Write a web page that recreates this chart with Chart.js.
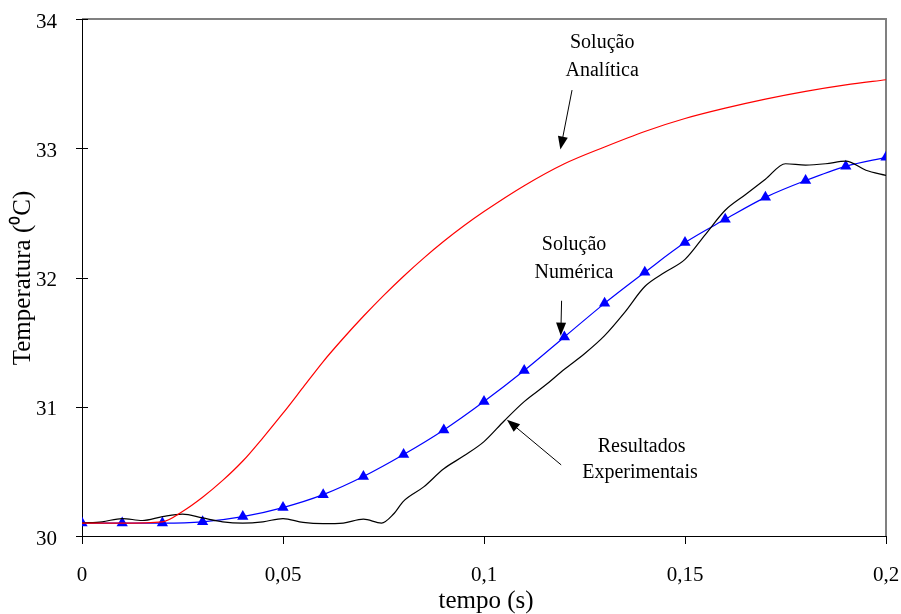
<!DOCTYPE html>
<html>
<head>
<meta charset="utf-8">
<script src="https://cdn.jsdelivr.net/npm/chart.js@4/dist/chart.umd.min.js"></script>
<style>
  body { margin: 0; background: #fff; }
  #wrap { width: 901px; height: 614px; }
</style>
</head>
<body>
<div id="wrap"><canvas id="chart" width="901" height="614"></canvas></div>
<script>
// Solução Numérica (triangles every 0.01 s)
let tNum = [0, 0.01, 0.02, 0.03, 0.04, 0.05, 0.06, 0.07, 0.08, 0.09, 0.1,
            0.11, 0.12, 0.13, 0.14, 0.15, 0.16, 0.17, 0.18, 0.19, 0.2];
let numerica = [30.1, 30.1, 30.1, 30.11, 30.15, 30.22, 30.32, 30.46, 30.63, 30.82, 31.04,
                31.28, 31.54, 31.8, 32.04, 32.27, 32.45, 32.62, 32.75, 32.86, 32.93];

// Solução Analítica
let tAna = [0, 0.01, 0.02, 0.025, 0.03, 0.035, 0.04, 0.045, 0.05, 0.055, 0.06, 0.065, 0.07, 0.075,
            0.08, 0.085, 0.09, 0.095, 0.1, 0.11, 0.12, 0.13, 0.14, 0.15, 0.16, 0.17, 0.18, 0.19, 0.2];
let analitica = [30.1, 30.1, 30.11, 30.19, 30.3, 30.43, 30.58, 30.76, 30.95, 31.15, 31.35, 31.53, 31.7, 31.86,
                 32.01, 32.15, 32.28, 32.4, 32.51, 32.71, 32.88, 33.01, 33.13, 33.23, 33.31, 33.38, 33.44, 33.49, 33.53];

// Resultados Experimentais
let tExp = [0, 0.005, 0.01, 0.015, 0.02, 0.025, 0.03, 0.035, 0.04, 0.045, 0.05, 0.055, 0.06, 0.065,
            0.07, 0.0745, 0.0775, 0.08, 0.085, 0.09, 0.095, 0.1, 0.105, 0.11, 0.115, 0.12, 0.125,
            0.13, 0.135, 0.14, 0.145, 0.15, 0.155, 0.16, 0.165, 0.17, 0.175, 0.18, 0.185, 0.19, 0.195, 0.2];
let experimental = [30.1, 30.11, 30.135, 30.12, 30.15, 30.17, 30.14, 30.11, 30.1, 30.11, 30.135, 30.105, 30.095, 30.1,
                    30.13, 30.1, 30.17, 30.27, 30.38, 30.52, 30.62, 30.73, 30.89, 31.04, 31.16, 31.29, 31.41,
                    31.55, 31.73, 31.93, 32.04, 32.14, 32.33, 32.52, 32.64, 32.76, 32.88, 32.87, 32.88, 32.9, 32.83, 32.79];

let yTicks = [30, 31, 32, 33, 34];
let xTicks = [0, 0.05, 0.1, 0.15, 0.2];

const FONT = "'Liberation Serif', 'Times New Roman', serif";

function pts(xs, ys) {
  return xs.map((x, i) => ({ x: x, y: ys[i] }));
}

// arrow with filled head
function arrow(ctx, x1, y1, x2, y2) {
  let ang = Math.atan2(y2 - y1, x2 - x1);
  let hl = 13, hw = 5;
  ctx.strokeStyle = "#000";
  ctx.fillStyle = "#000";
  ctx.lineWidth = 1;
  ctx.beginPath();
  ctx.moveTo(x1, y1);
  ctx.lineTo(x2 - Math.cos(ang) * hl * 0.8, y2 - Math.sin(ang) * hl * 0.8);
  ctx.stroke();
  ctx.beginPath();
  ctx.moveTo(x2, y2);
  ctx.lineTo(x2 - Math.cos(ang) * hl - Math.sin(ang) * hw, y2 - Math.sin(ang) * hl + Math.cos(ang) * hw);
  ctx.lineTo(x2 - Math.cos(ang) * hl + Math.sin(ang) * hw, y2 - Math.sin(ang) * hl - Math.cos(ang) * hw);
  ctx.closePath();
  ctx.fill();
}

// no automatic label padding, so the plot area stays where the layout puts it
function noPad(s) {
  s.paddingLeft = 0; s.paddingRight = 0; s.paddingTop = 0; s.paddingBottom = 0;
}

// axes frame, ticks and titles
const framePlugin = {
  id: "frame",
  beforeDatasetsDraw(chart) {
    let ctx = chart.ctx, a = chart.chartArea;
    let xs = chart.scales.x, ys = chart.scales.y;
    ctx.save();
    ctx.strokeStyle = "#808080";
    ctx.lineWidth = 2;
    ctx.beginPath();
    ctx.moveTo(a.left, a.top);
    ctx.lineTo(a.right, a.top);
    ctx.lineTo(a.right, a.bottom);
    ctx.stroke();
    ctx.strokeStyle = "#000";
    ctx.lineWidth = 1;
    ctx.beginPath();
    ctx.moveTo(a.left + 0.5, a.top);
    ctx.lineTo(a.left + 0.5, a.bottom + 0.5);
    ctx.lineTo(a.right, a.bottom + 0.5);
    yTicks.forEach(v => {
      let py = Math.round(ys.getPixelForValue(v)) + 0.5;
      ctx.moveTo(a.left - 6, py);
      ctx.lineTo(a.left + 6, py);
    });
    xTicks.forEach(v => {
      let px = Math.round(xs.getPixelForValue(v)) + 0.5;
      ctx.moveTo(px, a.bottom);
      ctx.lineTo(px, a.bottom + 8);
    });
    ctx.stroke();

    ctx.fillStyle = "#000";
    ctx.font = "25px " + FONT;
    ctx.textAlign = "center";
    ctx.textBaseline = "middle";
    ctx.fillText("tempo (s)", (a.left + a.right) / 2 + 2, 601);
    ctx.translate(23, 278);
    ctx.rotate(-Math.PI / 2);
    ctx.fillText("Temperatura (\u2070C)", 0, 0);
    ctx.restore();
  },
  afterDraw(chart) {
    let ctx = chart.ctx;
    let xs = chart.scales.x, ys = chart.scales.y;
    let X = v => xs.getPixelForValue(v), Y = v => ys.getPixelForValue(v);
    ctx.save();
    ctx.fillStyle = "#000";
    ctx.font = "20px " + FONT;
    ctx.textAlign = "center";
    ctx.textBaseline = "middle";
    ctx.fillText("Solução", X(0.1294), Y(33.82));
    ctx.fillText("Analítica", X(0.1294), Y(33.6));
    arrow(ctx, X(0.1219), Y(33.45), X(0.119), Y(32.99));
    ctx.fillStyle = "#000";
    ctx.fillText("Solução", X(0.1224), Y(32.25));
    ctx.fillText("Numérica", X(0.1224), Y(32.04));
    arrow(ctx, X(0.1193), Y(31.82), X(0.1191), Y(31.55));
    ctx.fillStyle = "#000";
    ctx.fillText("Resultados", X(0.1392), Y(30.69));
    ctx.fillText("Experimentais", X(0.1388), Y(30.49));
    arrow(ctx, X(0.1192), Y(30.55), X(0.1057), Y(30.9));
    ctx.restore();
  }
};

let ctx = document.getElementById("chart").getContext("2d");
let chart = new Chart(ctx, {
  type: "line",
  data: {
    datasets: [
      {
        label: "Solução Analítica",
        data: pts(tAna, analitica),
        borderColor: "#ff0000",
        borderWidth: 1.2,
        pointRadius: 0,
        cubicInterpolationMode: "monotone"
      },
      {
        label: "Resultados Experimentais",
        data: pts(tExp, experimental),
        borderColor: "#000000",
        borderWidth: 1.2,
        pointRadius: 0,
        cubicInterpolationMode: "monotone"
      },
      {
        label: "Solução Numérica",
        data: pts(tNum, numerica),
        borderColor: "#0000ff",
        backgroundColor: "#0000ff",
        borderWidth: 1.2,
        pointStyle: "triangle",
        pointRadius: 6.5,
        pointBorderWidth: 0,
        cubicInterpolationMode: "monotone"
      }
    ]
  },
  options: {
    responsive: false,
    animation: false,
    layout: { padding: { top: 19, right: 15, left: 0, bottom: 0 } },
    plugins: { legend: { display: false }, tooltip: { enabled: false } },
    scales: {
      x: {
        type: "linear",
        min: 0, max: 0.2,
        grid: { display: false },
        border: { display: false },
        afterBuildTicks: s => { s.ticks = xTicks.map(v => ({ value: v })); },
        afterFit: s => { s.height = 78; noPad(s); },
        ticks: {
          padding: 19,
          color: "#000",
          maxRotation: 0,
          font: { family: FONT, size: 21 },
          callback: v => String(Math.round(v * 100) / 100).replace(".", ",")
        }
      },
      y: {
        min: 30, max: 34,
        grid: { display: false },
        border: { display: false },
        afterBuildTicks: s => { s.ticks = yTicks.map(v => ({ value: v })); },
        afterFit: s => { s.width = 82; noPad(s); },
        ticks: {
          padding: 17,
          labelOffset: 3,
          color: "#000",
          font: { family: FONT, size: 21 }
        }
      }
    }
  },
  plugins: [framePlugin]
});
</script>
</body>
</html>
